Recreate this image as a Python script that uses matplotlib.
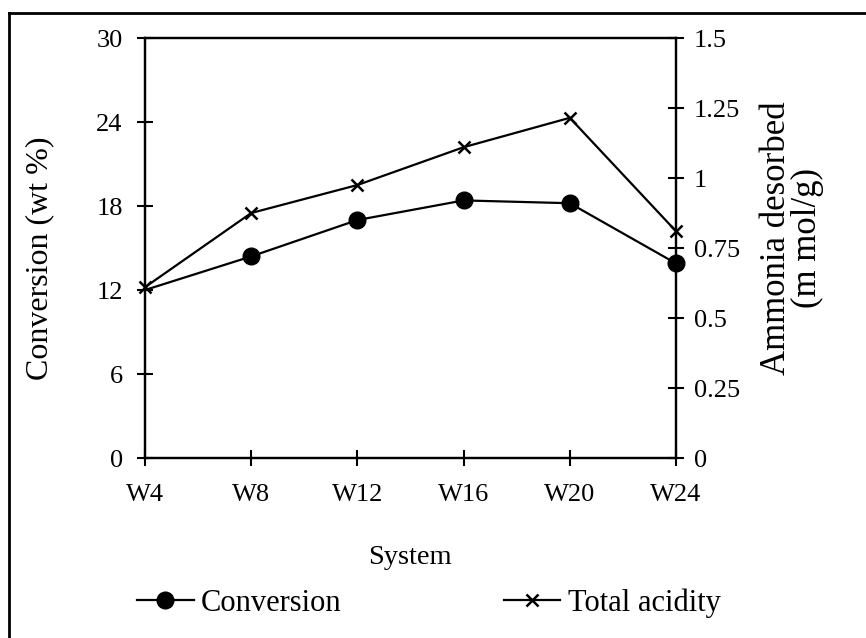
import matplotlib
matplotlib.use("Agg")
import matplotlib.pyplot as plt
from matplotlib.lines import Line2D

# data
systems = ["W4", "W8", "W12", "W16", "W20", "W24"]
conversion = [12.0, 14.4, 17.0, 18.4, 18.2, 13.9]      # wt %
total_acidity = [0.61, 0.875, 0.975, 1.11, 1.215, 0.81]  # m mol/g

left_ticks = [0, 6, 12, 18, 24, 30]
right_ticks = [0, 0.25, 0.5, 0.75, 1, 1.25, 1.5]
right_labels = ["0", "0.25", "0.5", "0.75", "1", "1.25", "1.5"]

plt.rcParams['font.family'] = ['Liberation Serif', 'DejaVu Serif']
plt.rcParams['font.size'] = 19

fig = plt.figure(figsize=(8.66, 6.38), dpi=100)
ax = fig.add_axes([0.1674, 0.2821, 0.6132, 0.6583])
ax2 = ax.twinx()

x = range(len(systems))
# no circle is visible at W4 in the original (hidden under the cross)
l1, = ax.plot(x, conversion, color="black", lw=1.6, marker="o", ms=12,
              markevery=list(range(1, len(systems))), clip_on=False, zorder=3)
l2, = ax2.plot(x, total_acidity, color="black", lw=1.6, marker="x", ms=9,
               mew=1.8, clip_on=False, zorder=3)

ax.set_xlim(0, len(systems) - 1)
ax.set_ylim(0, 30)
ax2.set_ylim(0, 1.5)
ax.set_xticks(list(x))
ax.set_xticklabels(systems)
ax.set_yticks(left_ticks)
ax2.set_yticks(right_ticks)
ax2.set_yticklabels(right_labels)

ax.tick_params(axis="both", direction="inout", length=12, width=1.5)
ax.tick_params(axis="y", pad=10)
ax.tick_params(axis="x", pad=13)
ax2.tick_params(axis="y", direction="inout", length=12, width=1.5, pad=7)

for a in (ax, ax2):
    for s in a.spines.values():
        s.set_linewidth(1.6)

# axis titles placed in pixel positions of the original
fig.text(410 / 866, 1 - 557 / 638, "System", ha="center", va="center",
         fontsize=20.5)
fig.text(40 / 866, 1 - 258 / 638, "Conversion (wt %)", rotation=90,
         ha="center", va="center", fontsize=23)
fig.text(792 / 866, 1 - 238 / 638, "Ammonia desorbed\n(m mol/g)", rotation=90,
         ha="center", va="center", multialignment="center", fontsize=25,
         linespacing=0.95)

fig.legend([l1, l2], ["Conversion", "Total acidity"], loc="center left",
           bbox_to_anchor=(137 / 866, 1 - 603 / 638), ncol=2, frameon=False,
           borderpad=0, borderaxespad=0, handlelength=1.85, handletextpad=0.25,
           columnspacing=5.3, fontsize=22)

# outer frame (left and top edges visible)
fig.add_artist(Line2D([0.0104, 0.0104], [0, 0.9796], transform=fig.transFigure,
                      color="black", lw=2))
fig.add_artist(Line2D([0.0104, 1], [0.9796, 0.9796], transform=fig.transFigure,
                      color="black", lw=2))

fig.savefig("out.png", dpi=100)
